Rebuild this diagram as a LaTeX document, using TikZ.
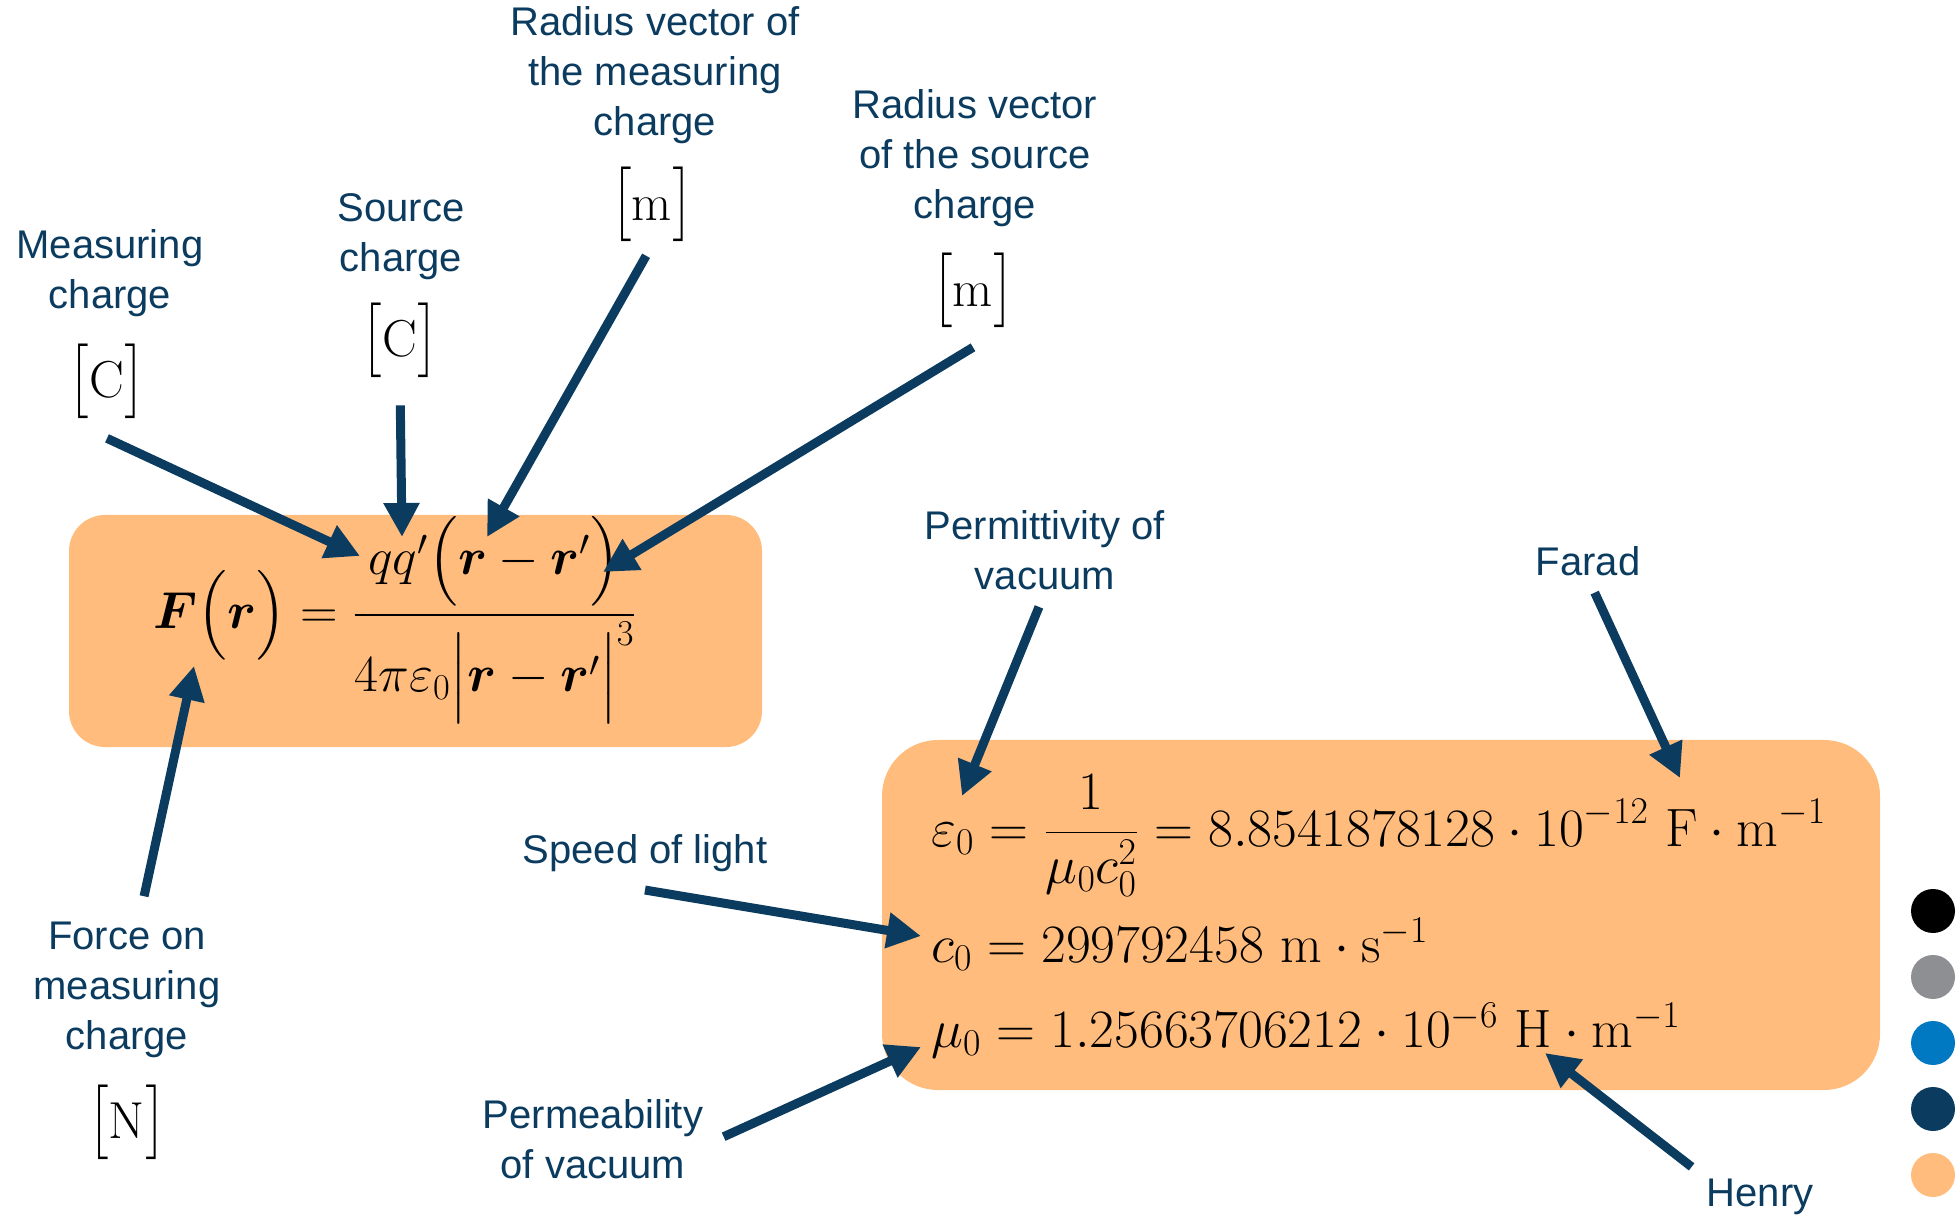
\RequirePackage{fix-cm}
\documentclass[tikz,border=0pt]{standalone}
\usepackage{amsmath,bm,graphicx}
\usepackage[no-math]{fontspec}
\newfontfamily\labfont{Liberation Sans}
\usepackage{tikz}
\usetikzlibrary{arrows.meta,positioning}
\definecolor{navyc}{HTML}{0B3B5E}
\definecolor{orangec}{HTML}{FFBC7C}
\definecolor{greyc}{HTML}{8E8F93}
\definecolor{bluec}{HTML}{0078C2}
% unit in tall brackets
\newcommand\unitb[1]{\scalebox{1}[1.25]{$\big[$}\mathrm{#1}\scalebox{1}[1.25]{$\big]$}}

\begin{document}
\begin{tikzpicture}[x=0.5pt,y=-0.5pt,
  lbl/.style={font=\labfont\fontsize{20}{25}\selectfont,text=navyc,
              align=center,inner sep=1pt},
  unit/.style={font=\fontsize{26}{31}\selectfont,inner sep=1pt},
  eq/.style={font=\fontsize{27}{32}\selectfont,inner sep=0pt,anchor=base west},
  ar/.style={-{Triangle[length=17pt,width=17pt]},line width=4.5pt,navyc},
]
\useasboundingbox (0,0) rectangle (1959,1218);
\fill[orangec,rounded corners=18pt] (69,515) rectangle (762,747);
\fill[orangec,rounded corners=28pt] (882,740) rectangle (1880,1090);

% Coulomb force
\node[unit] (coul) at (395,620)
  {$\displaystyle \bm{F}\Big(\bm{r}\Big)=
    \frac{qq'\Big(\bm{r}-\bm{r}'\Big)}{4\pi\varepsilon_0\Big|\bm{r}-\bm{r}'\Big|^3}$};

% constants
\node[eq] (eps) at (931,846)
  {$\displaystyle \varepsilon_0=\frac{1}{\mu_0c_0^2}
    =8.8541878128\cdot10^{-12}\ \mathrm{F}\cdot\mathrm{m}^{-1}$};
\node[eq] (cz) at (931,962) {$c_0=299792458\ \mathrm{m}\cdot\mathrm{s}^{-1}$};
\node[eq] (mu) at (931,1047)
  {$\mu_0=1.25663706212\cdot10^{-6}\ \mathrm{H}\cdot\mathrm{m}^{-1}$};

% labels
\node[lbl] (mc) at (110,273) {Measuring\\charge};
\node[unit] (mcu) at (107,381) {$\unitb{C}$};
\node[lbl] (sc) at (401,237) {Source\\charge};
\node[unit] (scu) at (400,340) {$\unitb{C}$};
\node[lbl] (rm) at (655,75) {Radius vector of\\the measuring\\charge};
\node[unit] (rmu) at (652,204) {$\unitb{m}$};
\node[lbl] (rs) at (975,158) {Radius vector\\of the source\\charge};
\node[unit] (rsu) at (973,290) {$\unitb{m}$};
\node[lbl] (fo) at (127,990) {Force on\\measuring\\charge};
\node[unit] (fou) at (127,1122) {$\unitb{N}$};
\node[lbl] (pe) at (1045,550) {Permittivity of\\vacuum};
\node[lbl] (fa) at (1588,561) {Farad};
\node[lbl] (sp) at (645,853) {Speed of light};
\node[lbl] (pm) at (593,1139) {Permeability\\of vacuum};
\node[lbl] (he) at (1760,1197) {Henry};

% arrow tips
\coordinate (mc-h) at (360,556);
\coordinate (sc-h) at (402,537);
\coordinate (rm-h) at (487,537);
\coordinate (rs-h) at (603,572);
\coordinate (fo-h) at (194,666);
\coordinate (pe-h) at (962,796);
\coordinate (fa-h) at (1680,778);
\coordinate (sp-h) at (921,936);
\coordinate (pm-h) at (921,1047);
\coordinate (he-h) at (1545,1053);

\draw[ar] ([yshift=-8pt]mcu.south) -- (mc-h);
\draw[ar,shorten <=12pt] (scu.south) -- (sc-h);
\draw[ar,shorten <=6pt] (rmu.south) -- (rm-h);
\draw[ar] ([yshift=-8pt]rsu.south) -- (rs-h);
\draw[ar,shorten <=12pt] ([xshift=6pt]fo.north) -- (fo-h);
\draw[ar,shorten <=8pt] (pe.south) -- (pe-h);
\draw[ar,shorten <=8pt] (fa.south) -- (fa-h);
\draw[ar] ([yshift=-8pt]sp.south) -- (sp-h);
\draw[ar,shorten <=10pt] ([yshift=-3pt]pm.east) -- (pm-h);
\draw[ar,shorten <=8pt] (he.north west) -- (he-h);

% colour dots
\foreach \c [count=\i] in {black,greyc,bluec,navyc,orangec}
  \fill[\c] (1933,845+66*\i) circle (11pt);
\end{tikzpicture}
\end{document}
